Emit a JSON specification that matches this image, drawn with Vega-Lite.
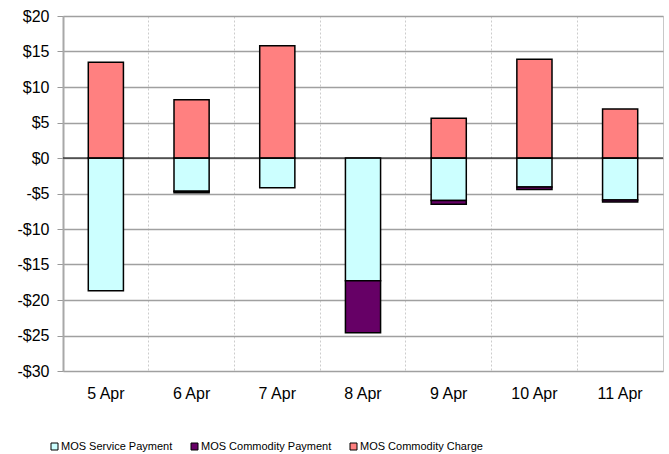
{
  "$schema": "https://vega.github.io/schema/vega-lite/v6.json",
  "width": 600,
  "height": 355,
  "autosize": "none",
  "padding": {"left": 63, "top": 16, "right": 6, "bottom": 83},
  "background": "white",
  "config": {
    "font": "Liberation Sans",
    "view": {"stroke": "#c8c8c8"},
    "axis": {"labelFontSize": 16, "labelColor": "black", "labelOverlap": false, "title": null},
    "legend": {"labelFontSize": 11, "labelColor": "black"}
  },
  "data": {
    "values": [
      {"day": "5 Apr", "series": "MOS Service Payment", "value": -18.7},
      {"day": "5 Apr", "series": "MOS Commodity Charge", "value": 13.5},
      {"day": "6 Apr", "series": "MOS Service Payment", "value": -4.7},
      {"day": "6 Apr", "series": "MOS Commodity Payment", "value": -0.2},
      {"day": "6 Apr", "series": "MOS Commodity Charge", "value": 8.2},
      {"day": "7 Apr", "series": "MOS Service Payment", "value": -4.2},
      {"day": "7 Apr", "series": "MOS Commodity Charge", "value": 15.8},
      {"day": "8 Apr", "series": "MOS Service Payment", "value": -17.3},
      {"day": "8 Apr", "series": "MOS Commodity Payment", "value": -7.3},
      {"day": "9 Apr", "series": "MOS Service Payment", "value": -6.0},
      {"day": "9 Apr", "series": "MOS Commodity Payment", "value": -0.5},
      {"day": "9 Apr", "series": "MOS Commodity Charge", "value": 5.6},
      {"day": "10 Apr", "series": "MOS Service Payment", "value": -4.1},
      {"day": "10 Apr", "series": "MOS Commodity Payment", "value": -0.35},
      {"day": "10 Apr", "series": "MOS Commodity Charge", "value": 13.9},
      {"day": "11 Apr", "series": "MOS Service Payment", "value": -5.9},
      {"day": "11 Apr", "series": "MOS Commodity Payment", "value": -0.3},
      {"day": "11 Apr", "series": "MOS Commodity Charge", "value": 6.9}
    ]
  },
  "resolve": {"axis": {"y": "independent"}},
  "layer": [
    {
      "mark": {"type": "bar", "width": {"band": 0.41}, "stroke": "black", "strokeWidth": 1.5},
      "encoding": {
        "x": {
          "field": "day", "type": "nominal", "sort": null,
          "scale": {"paddingInner": 0, "paddingOuter": 0},
          "axis": {
            "title": null, "labelAngle": 0, "labelFontSize": 16, "labelColor": "black",
            "labelPadding": 14, "ticks": false, "domain": false,
            "grid": true, "bandPosition": 0, "gridColor": "#cccccc", "gridDash": [2, 2], "gridWidth": 1
          }
        },
        "y": {
          "field": "value", "type": "quantitative", "stack": "zero",
          "scale": {"domain": [-30, 20], "nice": false},
          "axis": {
            "title": null, "orient": "left",
            "values": [-30, -25, -20, -15, -10, -5, 0, 5, 10, 15, 20],
            "labelExpr": "datum.value < 0 ? '-$' + abs(datum.value) : '$' + datum.value",
            "labelFontSize": 16, "labelColor": "black", "labelPadding": 8, "labelOverlap": false,
            "tickSize": 6, "tickColor": "#999999", "tickWidth": 1,
            "domainColor": "#a8a8a8", "domainWidth": 2,
            "gridColor": "#a0a0a0", "gridWidth": 1.3
          }
        },
        "color": {
          "field": "series", "type": "nominal",
          "sort": ["MOS Service Payment", "MOS Commodity Payment", "MOS Commodity Charge"],
          "scale": {
            "domain": ["MOS Service Payment", "MOS Commodity Payment", "MOS Commodity Charge"],
            "range": ["#CCFFFF", "#660066", "#FF8080"]
          },
          "legend": {
            "title": null, "orient": "none", "direction": "horizontal",
            "legendX": -14, "legendY": 425,
            "symbolType": "square", "symbolSize": 49, "symbolStrokeColor": "black", "symbolStrokeWidth": 1,
            "labelFontSize": 11, "labelColor": "black", "labelOffset": 1, "columnPadding": 16
          }
        }
      }
    },
    {
      "data": {"values": [{"zero": 0}]},
      "mark": {"type": "rule", "color": "black", "strokeWidth": 1},
      "encoding": {
        "y": {"field": "zero", "type": "quantitative", "axis": null}
      }
    }
  ]
}
